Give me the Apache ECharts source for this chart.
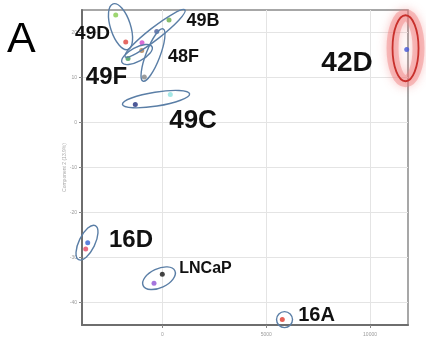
<!DOCTYPE html>
<html>
<head>
<meta charset="utf-8">
<script src="https://cdn.jsdelivr.net/npm/echarts@6/dist/echarts.min.js"></script>
<style>
  html, body { margin: 0; padding: 0; background: #fff; }
  #chart { width: 426px; height: 337px; }
</style>
</head>
<body>
<div id="chart"></div>
<script>
// Sample scores on the first two components
const sampleNames = ['49D-1', '49D-2', '49B-1', '49B-2', '48F-1', '48F-2', '49F-1', '48F-3',
                     '49C-1', '49C-2', '42D', '16D-1', '16D-2', 'LNCaP-1', 'LNCaP-2', '16A'];
const comp1 = [-2255, -1773, 313, -280, -988, -1002, -1663, -877,
               -1311, 376, 11769, -3605, -3701, -10, -410, 5773];
const comp2 = [23.9, 17.9, 22.8, 20.2, 17.7, 16.0, 14.2, 10.1,
               4.0, 6.2, 16.2, -26.7, -28.1, -33.7, -35.7, -43.8];

// Group names and where their captions sit (data units)
const groupNames = ['49D', '49B', '48F', '49F', '49C', '42D', '16D', 'LNCaP', '16A'];
const captionX = [-3373, 1952, 1012, -2699, 1470, 8892, -1518, 2072, 7422];
const captionY = [19.7, 22.5, 14.5, 10.0, 0.3, 13.1, -26.1, -32.5, -42.9];

// Axis tick values
const xTicks = [0, 5000, 10000];
const yTicks = [-40, -30, -20, -10, 0, 10, 20];

// Styling
const pointColors = ['#86cc4e', '#e0443c', '#6aae48', '#4b5c9c', '#d048cc', '#b08050', '#3e9a58', '#858585',
                     '#20307e', '#8fe2e0', '#3a55e0', '#3462d4', '#e34664', '#151515', '#8f52d4', '#e0382a'];
const captionSizes = [19, 18, 18, 24, 26, 28, 24, 16, 20];

// Ring outlines around each group: centre (data units), radii (px), tilt (deg)
const ringCenterX = [-2024, -361, -458, -1229, -313, 11711, -3639, -169, 5880];
const ringCenterY = [21.3, 19.8, 15.0, 15.1, 5.2, 16.5, -26.7, -34.6, -43.8];
const ringRx = [10, 38, 7, 17, 34, 13, 8, 17.5, 8];
const ringRy = [24, 6, 28, 7, 7, 33, 19, 9.5, 8];
const ringTilt = [18, 38, -21, 28, 9, 0, -26, 25, 0];
const ringHighlight = [false, false, false, false, false, true, false, false, false];

const chart = echarts.init(document.getElementById('chart'), null, { renderer: 'canvas' });

const pointData = comp1.map((x, i) => ({
  name: sampleNames[i],
  value: [x, comp2[i]],
  itemStyle: { color: pointColors[i] }
}));

const ringData = ringCenterX.map((x, i) => [x, ringCenterY[i], ringRx[i], ringRy[i], ringTilt[i], i]);
const captionData = captionX.map((x, i) => [x, captionY[i], i]);

chart.setOption({
  animation: false,
  backgroundColor: '#ffffff',
  graphic: [{
    type: 'text',
    left: 7,
    top: 19,
    style: { text: 'A', fontSize: 43, fontFamily: 'Liberation Sans, Arial, sans-serif', fill: '#000' }
  }],
  grid: {
    left: 82, top: 10, right: 18, bottom: 11,
    show: true, borderColor: '#8a8a8a', borderWidth: 1.5
  },
  xAxis: {
    type: 'value',
    min: -3880, max: 11830,
    splitNumber: 3,
    axisLine: { show: true, onZero: false, lineStyle: { color: '#6e6e6e', width: 2 } },
    axisTick: { show: true, length: 3, lineStyle: { color: '#888' }, customValues: xTicks },
    axisLabel: { fontSize: 5, color: '#9a9a9a', margin: 7, customValues: xTicks, formatter: v => String(v) },
    splitLine: { show: true, lineStyle: { color: '#e4e4e4', width: 1 } }
  },
  yAxis: {
    type: 'value',
    min: -45, max: 25,
    splitNumber: 7,
    name: 'Component 2 (13.9%)',
    nameLocation: 'middle',
    nameGap: 15,
    nameMoveOverlap: false,
    nameTextStyle: { fontSize: 5, color: '#a8a8a8' },
    axisLine: { show: true, onZero: false, lineStyle: { color: '#6e6e6e', width: 2 } },
    axisTick: { show: true, length: 3, lineStyle: { color: '#888' }, customValues: yTicks },
    axisLabel: { fontSize: 5, color: '#9a9a9a', margin: 5, customValues: yTicks, formatter: v => String(v) },
    splitLine: { show: true, lineStyle: { color: '#e4e4e4', width: 1 } }
  },
  series: [
    {
      type: 'scatter',
      symbol: 'circle',
      symbolSize: 5,
      data: pointData,
      z: 3
    },
    {
      type: 'custom',
      clip: false,
      z: 4,
      data: ringData,
      renderItem: function (params, api) {
        const c = api.coord([api.value(0), api.value(1)]);
        const idx = api.value(5);
        const rot = api.value(4) * Math.PI / 180;
        const shape = { cx: 0, cy: 0, rx: api.value(2), ry: api.value(3) };
        if (!ringHighlight[idx]) {
          return {
            type: 'ellipse', x: c[0], y: c[1], rotation: rot, shape: shape,
            style: { fill: 'none', stroke: '#5a7ea6', lineWidth: 1.4 }
          };
        }
        // highlighted group: soft red halo under a red ring
        return {
          type: 'group',
          children: [
            {
              type: 'ellipse', x: c[0], y: c[1], rotation: rot, shape: shape,
              style: { fill: 'none', stroke: 'rgba(240, 130, 130, 0.45)', lineWidth: 12,
                       shadowBlur: 10, shadowColor: 'rgba(240, 100, 100, 0.8)' }
            },
            {
              type: 'ellipse', x: c[0], y: c[1], rotation: rot, shape: shape,
              style: { fill: 'none', stroke: '#c8302c', lineWidth: 1.8 }
            }
          ]
        };
      }
    },
    {
      type: 'custom',
      clip: false,
      z: 5,
      data: captionData,
      renderItem: function (params, api) {
        const c = api.coord([api.value(0), api.value(1)]);
        const idx = api.value(2);
        return {
          type: 'text',
          x: c[0], y: c[1],
          style: {
            text: groupNames[idx],
            fontSize: captionSizes[idx],
            fontWeight: 700,
            fontFamily: 'Liberation Sans, Arial, sans-serif',
            fill: '#111',
            align: 'center',
            verticalAlign: 'middle'
          }
        };
      }
    }
  ]
});
</script>
</body>
</html>
